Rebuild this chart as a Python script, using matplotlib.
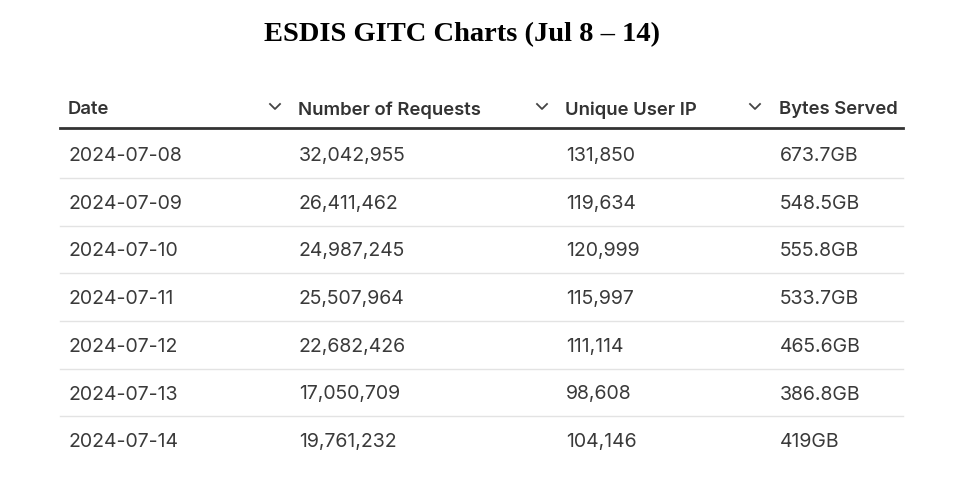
import matplotlib
matplotlib.use('Agg')
import matplotlib.pyplot as plt
from matplotlib.lines import Line2D

W, H = 955, 504
title = 'ESDIS GITC Charts (Jul 8 – 14)'
headers = ['Date', 'Number of Requests', 'Unique User IP', 'Bytes Served']
dates = ['2024-07-08', '2024-07-09', '2024-07-10', '2024-07-11', '2024-07-12', '2024-07-13', '2024-07-14']
requests = ['32,042,955', '26,411,462', '24,987,245', '25,507,964', '22,682,426', '17,050,709', '19,761,232']
unique_ip = ['131,850', '119,634', '120,999', '115,997', '111,114', '98,608', '104,146']
bytes_served = ['673.7GB', '548.5GB', '555.8GB', '533.7GB', '465.6GB', '386.8GB', '419GB']

fig = plt.figure(figsize=(W/100, H/100), dpi=100)
fig.patch.set_facecolor('white')
px = lambda x, y: (x/W, 1-y/H)

def txt(x, y, s, **kw):
    fig.text(*px(x, y), s, va='center_baseline', ha='left', **kw)

fig.text(*px(462, 35), title, ha='center', va='center', fontsize=20.5, fontweight='bold',
         family='Liberation Serif', color='black')

col_x = [68, 298, 565, 779]
chev_x = [275, 542, 755]
for x, h in zip(col_x, headers):
    txt(x, 108, h, fontsize=13.3, fontweight='semibold', family='Inter', color='#333333')
for cx in chev_x:
    xs = [cx-5, cx, cx+5]; ys = [104, 109, 104]
    fig.add_artist(Line2D([x/W for x in xs], [1-y/H for y in ys], color='#444444', lw=1.3))

fig.add_artist(Line2D([60/W, 903/W], [1-128/H]*2, color='#333333', lw=2))
row_y0, row_h = 154, 47.7
cols = [dates, requests, unique_ip, bytes_served]
for i in range(len(dates)):
    y = row_y0 + i*row_h
    for j, c in enumerate(cols):
        txt(col_x[j] + 1, y, c[i], fontsize=14, family='Inter', color='#3a3a3a')
    if i < len(dates)-1:
        fig.add_artist(Line2D([60/W, 903/W], [1-(y+row_h/2)/H]*2, color='#e3e3e3', lw=1))

fig.savefig('out.png', dpi=100)
